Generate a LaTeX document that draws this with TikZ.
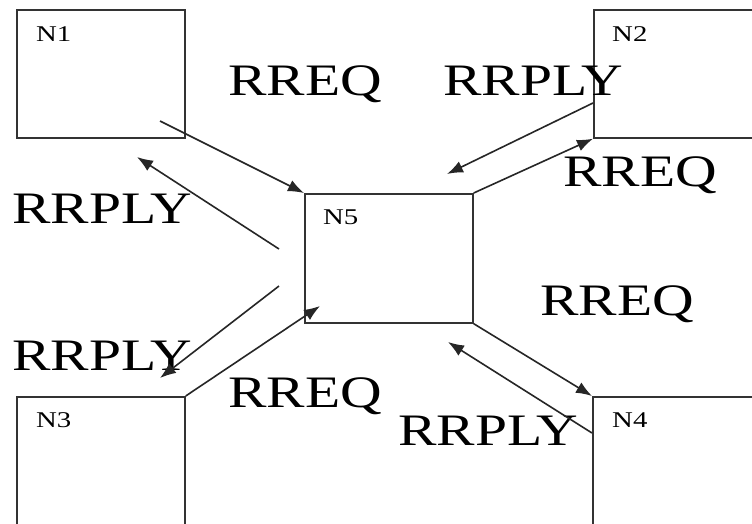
\documentclass[tikz,border=0pt]{standalone}
\usepackage{fontspec}
\setmainfont{Liberation Serif}
\usepackage{graphicx}
\usetikzlibrary{arrows.meta}
\newcommand{\wtext}[1]{\scalebox{1.28}[1]{#1}}
\tikzset{
  box/.style={draw=black!80, line width=1.7pt, minimum width=168pt, minimum height=128pt, inner sep=0pt, anchor=north west},
  big/.style={font=\fontsize{45}{45}\selectfont, inner sep=0pt, anchor=base west},
  small/.style={font=\fontsize{22.5}{22.5}\selectfont, inner sep=0pt, anchor=base west},
  msg/.style={line width=1.6pt, draw=black!85, -{Latex[length=16pt,width=12pt]}},
}
\begin{document}
\begin{tikzpicture}[x=1pt, y=-1pt]
  \clip (0,0) rectangle (752,523);
  \fill[white] (0,0) rectangle (752,523);
  % boxes
  \node[box] (n1) at (16,9) {};
  \node[box] (n2) at (593,9) {};
  \node[box, minimum height=129pt] (n5) at (304,193) {};
  \node[box, minimum height=140pt] (n3) at (16,396) {};
  \node[box, minimum height=140pt] (n4) at (592,396) {};
  % box labels
  \node[small] (l1) at (36,41) {\wtext{N1}};
  \node[small] (l2) at (612,41) {\wtext{N2}};
  \node[small] (l5) at (323,224) {\wtext{N5}};
  \node[small] (l3) at (36,427) {\wtext{N3}};
  \node[small] (l4) at (612,427) {\wtext{N4}};
  % message labels
  \node[big] (t1) at (228,95) {\wtext{RREQ}};
  \node[big] (t2) at (443,95) {\wtext{RRPLY}};
  \node[big] (t3) at (12,223) {\wtext{RRPLY}};
  \node[big] (t4) at (563,186) {\wtext{RREQ}};
  \node[big] (t5) at (540,315) {\wtext{RREQ}};
  \node[big] (t6) at (12,370) {\wtext{RRPLY}};
  \node[big] (t7) at (228,407) {\wtext{RREQ}};
  \node[big] (t8) at (398,445) {\wtext{RRPLY}};
  % free ends
  \coordinate (a1s) at (160,121);
  \coordinate (a2s) at (279,249);
  \coordinate (a2e) at (137,157);
  \coordinate (a4s) at (593,103);
  \coordinate (a4e) at (447,174);
  \coordinate (a6s) at (592,433);
  \coordinate (a6e) at (448,342);
  \coordinate (a7s) at (279,286);
  \coordinate (a7e) at (160,378);
  \coordinate (a8e) at (320,306);
  % connectors
  \draw[msg] (a1s) -- (n5.north west);
  \draw[msg] (a2s) -- (a2e);
  \draw[msg] (n5.north east) -- (n2.south west);
  \draw[msg] (a4s) -- (a4e);
  \draw[msg] (n5.south east) -- (n4.north west);
  \draw[msg] (a6s) -- (a6e);
  \draw[msg] (a7s) -- (a7e);
  \draw[msg] (n3.north east) -- (a8e);
\end{tikzpicture}
\end{document}
